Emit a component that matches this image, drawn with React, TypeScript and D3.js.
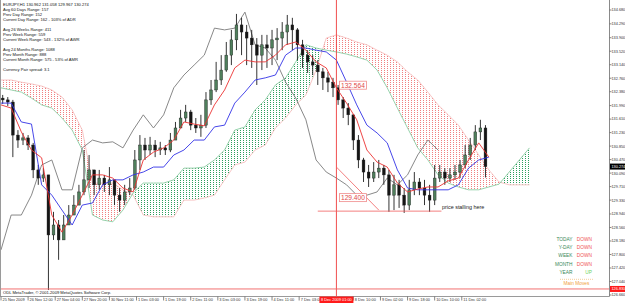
import React from "react";
import * as d3 from "d3";

const WIDTH = 625;
const HEIGHT = 303;

// ---- Candles (each candle groups 3 H1 bars) ----
const CANDLE_OPEN_FIRST = 132.2;
const candleClose = [
  132.15, 132.09, 131.16, 131.02, 131.08, 130.88, 130.18, 129.95, 130.04, 128.35,
  128.63, 128.21, 128.63, 128.91, 129.19, 129.56, 129.9, 130.18, 129.76, 129.95,
  129.76, 129.9, 129.47, 129.33, 129.56, 129.67, 130.46, 130.88, 130.74, 130.88,
  130.74, 130.8, 130.74, 131.02, 131.36, 131.64, 131.81, 131.44, 131.36, 131.44,
  132.15, 132.43, 132.71, 132.99, 133.41, 133.84, 134.26, 134.06, 133.89, 133.7,
  133.41, 133.7, 133.61, 133.84, 133.89, 134.06, 134.26, 134.12, 133.7, 133.41,
  133.22, 133.13, 132.94, 132.77, 132.65, 132.49, 132.15, 131.92, 131.73, 131.02,
  130.46, 130.12, 129.95, 130.12, 130.23, 130.04, 129.47, 129.76, 129.47, 129.19,
  129.62, 129.84, 129.67, 129.47, 129.33, 129.95, 130.12, 129.95, 130.04, 130.12,
  130.32, 130.6, 130.88, 131.25, 131.36, 130.274,
];
const candleHigh = [
  132.29, 132.23, 132.15, 131.3, 131.22, 131.16, 130.94, 130.32, 130.23, 130.04,
  129.0, 128.77, 128.91, 129.19, 129.47, 129.76, 130.74, 130.6, 130.18, 130.18,
  130.04, 130.26, 129.9, 129.67, 129.76, 129.95, 130.74, 131.16, 131.08, 131.11,
  131.02, 130.97, 130.88, 131.22, 131.53, 131.87, 132.01, 131.87, 131.64, 131.73,
  132.37, 132.71, 133.22, 133.41, 133.78, 134.12, 134.57, 134.46, 134.26, 134.12,
  133.89, 133.98, 133.98, 134.12, 134.17, 134.34, 134.54, 134.46, 134.17, 133.84,
  133.55, 133.41, 133.27, 133.05, 132.94, 132.77, 132.57, 132.23, 132.06, 131.73,
  131.16, 130.52, 130.32, 130.4, 130.46, 130.32, 130.18, 130.04, 129.9, 129.67,
  129.9, 130.12, 129.95, 129.9, 129.76, 130.32, 130.32, 130.23, 130.23, 130.32,
  130.46, 130.88, 131.08, 131.44, 131.59, 131.44,
];
const candleLow = [
  132.04, 131.98, 130.54, 130.8, 130.88, 130.74, 129.95, 129.76, 129.84, 126.8,
  128.21, 127.65, 128.21, 128.63, 128.91, 129.33, 129.47, 129.67, 129.47, 129.62,
  129.56, 129.47, 129.19, 129.0, 129.19, 129.47, 129.62, 130.18, 130.46, 130.6,
  130.54, 130.6, 130.6, 130.68, 131.02, 131.36, 131.53, 131.3, 131.22, 131.11,
  131.36, 132.01, 132.37, 132.57, 132.94, 133.13, 133.55, 133.41, 133.13, 133.05,
  132.57, 132.99, 133.05, 133.13, 133.27, 133.55, 133.7, 133.55, 133.27, 133.05,
  132.91, 132.85, 132.57, 132.43, 132.37, 132.23, 132.01, 131.64, 131.44, 130.74,
  130.23, 129.84, 129.7, 129.84, 129.95, 129.76, 129.0, 129.05, 129.11, 128.97,
  129.05, 129.47, 129.47, 129.19, 129.0, 129.19, 129.84, 129.76, 129.84, 129.9,
  129.95, 130.23, 130.46, 130.74, 131.02, 129.967,
];

// ---- Ichimoku lines, one value every 6 H1 bars ----
const tenkan = [
  132.01, 131.92, 131.25, 130.74, 130.52, 128.91, 128.43, 128.91, 129.47, 130.04,
  130.04, 129.95, 129.67, 129.56, 130.46, 130.68, 130.8, 131.02, 131.53, 131.47,
  131.42, 132.01, 132.43, 133.05, 133.27, 133.22, 133.22, 133.41, 133.7, 133.78,
  133.55, 133.22, 133.05, 132.49, 132.06, 131.59, 130.74, 130.4, 130.26, 129.81,
  129.56, 129.64, 129.7, 129.7, 129.87, 129.95, 130.46, 130.94, 130.54,
];
const kijun = [
  132.06, 132.06, 131.53, 131.47, 129.76, 129.47, 129.05, 128.63, 129.19, 129.25,
  129.76, 129.9, 129.9, 130.04, 130.12, 130.26, 130.26, 130.6, 130.74, 131.02,
  131.02, 131.39, 131.44, 132.06, 132.37, 132.71, 132.77, 132.85, 133.41, 133.61,
  133.61, 133.55, 133.5, 133.27, 132.65, 132.01, 131.44, 131.22, 130.94, 130.18,
  129.67, 129.62, 129.62, 129.62, 129.62, 129.76, 130.23, 130.46, 130.54,
];
const chikou = [
  127.93, 128.91, 128.91, 129.47, 130.32, 130.46, 129.62, 129.62, 130.8, 131.02,
  130.94, 130.97, 130.8, 131.3, 131.73, 131.36, 131.73, 132.49, 132.85, 133.13,
  133.41, 134.17, 134.12, 134.17, 134.62, 133.7, 133.61, 133.27, 132.65, 132.2,
  131.59, 130.46, 130.12, 129.95, 129.76, 129.47, 129.47, 129.56, 129.95, 129.76,
  130.04, 130.6, 131.02, 130.74,
];
const spanA = [
  132.49, 132.43, 132.37, 132.2, 132.01, 131.92, 131.64, 131.3, 130.74, 128.91,
  128.77, 128.72, 129.05, 129.53, 129.81, 129.81, 129.81, 129.9, 130.23, 130.23,
  130.26, 130.46, 130.74, 131.3, 131.39, 131.87, 132.15, 132.57, 132.77, 133.22,
  133.7, 133.61, 133.55, 133.5, 133.44, 133.36, 133.27, 132.99, 132.49, 131.92,
  131.36, 130.8, 130.46, 130.04, 129.81, 129.7, 129.62, 129.62, 129.7, 129.78,
  130.12, 130.46, 130.8,
];
const spanB = [
  132.71, 132.71, 132.65, 132.6, 132.54, 132.43, 132.23, 131.87, 131.3, 129.81,
  129.81, 129.81, 129.62, 129.47, 128.91, 128.86, 128.86, 128.86, 129.33, 129.33,
  129.39, 129.47, 129.9, 130.32, 130.4, 130.74, 130.88, 131.36, 131.64, 132.01,
  132.29, 132.99, 133.89, 133.98, 133.89, 133.78, 133.7, 133.55, 133.41, 133.22,
  132.94, 132.71, 132.37, 132.01, 131.73, 131.44, 131.02, 130.6, 130.18, 129.84,
  129.76, 129.76, 129.76,
];

// ---- Axis labels ----
const priceTicks = [
  134.68, 134.29, 133.9, 133.52, 133.14, 132.76, 132.38, 131.99, 131.61, 131.23,
  130.85, 130.47, 130.09, 129.71, 129.33, 128.94, 128.56, 128.18, 127.8, 127.42,
  127.04, 126.66,
];
// one label every 16 H1 bars; the 13th sits under the red cursor label
const timeLabels = [
  "25 Nov 2009", "26 Nov 12:00", "27 Nov 04:00", "27 Nov 20:00", "30 Nov 11:00",
  "1 Dec 03:00", "1 Dec 19:00", "2 Dec 11:00", "3 Dec 03:00", "3 Dec 19:00",
  "4 Dec 11:00", "7 Dec 03:00", "", "8 Dec 10:00", "9 Dec 02:00",
  "9 Dec 18:00", "10 Dec 10:00", "11 Dec 02:00",
];
const CURRENT_PRICE = 130.274;
const ALERT_PRICE = 126.83;
const VLINE_BAR = 198;
const VLINE_LABEL = "8 Dec 2009 01:00";
const FIB_HIGH = 132.564;
const FIB_LOW = 129.4;
const trendStart = { bar: 198, price: 130.26 };
const trendEnd = { bar: 223, price: 129.05 };
const stallLine = { from: 187, to: 260, price: 129.02 };

const headerLines = [
  "EURJPY,H1  130.962 131.058 129.967 130.274",
  "Avg 60 Days Range: 157",
  "Prev Day Range: 152",
  "Current Day Range: 162 - 103% of ADR",
  "",
  "Avg 26 Weeks Range: 411",
  "Prev Week Range: 559",
  "Current Week Range: 543 - 132% of AWR",
  "",
  "Avg 24 Months Range: 1088",
  "Prev Month Range: 888",
  "Current Month Range: 575 - 53% of AMR",
  "",
  "Currency Pair spread: 3.1",
];
const trendNames = ["TODAY", "Y-DAY", "WEEK", "MONTH", "YEAR"];
const trendValues = ["DOWN", "DOWN", "DOWN", "DOWN", "UP"];

const FONT = "'Liberation Sans', Arial, sans-serif";

export default function App() {
  const PLOT_R = 609.5;
  const PLOT_B = 296.5;
  const x = d3.scaleLinear().domain([0, 360]).range([1, 1 + 1.694 * 360]);
  const y = d3.scaleLinear().domain([126.66, 134.68]).range([295, 10]);

  const candles = candleClose.map((c, i) => {
    const o = i === 0 ? CANDLE_OPEN_FIRST : candleClose[i - 1];
    return {
      bar: i * 3 + 1,
      o,
      c,
      h: Math.max(candleHigh[i], o, c),
      l: Math.min(candleLow[i], o, c),
    };
  });

  const STEP = 6;
  const line = d3
    .line<number>()
    .x((_, k) => x(k * STEP))
    .y((v) => y(v));

  const idx = spanA.map((_, k) => k);
  const cloudArea = d3
    .area<number>()
    .x((k) => x(k * STEP))
    .y0((k) => y(spanA[k]))
    .y1((k) => y(spanB[k]))(idx) as string;
  const aboveB = d3
    .area<number>()
    .x((k) => x(k * STEP))
    .y0(0)
    .y1((k) => y(spanB[k]))(idx) as string;
  const aboveA = d3
    .area<number>()
    .x((k) => x(k * STEP))
    .y0(0)
    .y1((k) => y(spanA[k]))(idx) as string;

  const vx = x(VLINE_BAR);

  return (
    <svg
      width={WIDTH}
      height={HEIGHT}
      style={{ position: "absolute", left: 0, top: 0, background: "#fff" }}
      fontFamily={FONT}
    >
      <defs>
        <pattern id="gHatch" width="3" height="2" patternUnits="userSpaceOnUse">
          <rect x="0" y="0" width="1" height="1" fill="#2f9e5e" />
        </pattern>
        <pattern id="pHatch" width="3" height="2" patternUnits="userSpaceOnUse">
          <rect x="0" y="0" width="1" height="1" fill="#f08080" />
        </pattern>
        <clipPath id="clipAboveB">
          <path d={aboveB} />
        </clipPath>
        <clipPath id="clipAboveA">
          <path d={aboveA} />
        </clipPath>
        <clipPath id="plot">
          <rect x="0" y="0" width={PLOT_R} height={PLOT_B} />
        </clipPath>
      </defs>
      <rect x="0" y="0" width={WIDTH} height={HEIGHT} fill="#fff" />

      <g clipPath="url(#plot)">
        {/* cloud */}
        <path d={cloudArea} fill="url(#gHatch)" clipPath="url(#clipAboveB)" />
        <path d={cloudArea} fill="url(#pHatch)" clipPath="url(#clipAboveA)" />
        <path d={line(spanB) as string} fill="none" stroke="#f6b8b8" strokeWidth={0.8} />
        <path d={line(spanA) as string} fill="none" stroke="#7cc898" strokeWidth={0.8} />

        {/* chikou */}
        <path d={line(chikou) as string} fill="none" stroke="#7a7a7a" strokeWidth={0.9} />

        {/* candles */}
        {candles.map((d, i) => {
          const cx = x(d.bar);
          const up = d.c >= d.o;
          const top = y(Math.max(d.o, d.c));
          const bot = y(Math.min(d.o, d.c));
          return (
            <g key={i}>
              <line x1={cx} x2={cx} y1={y(d.h)} y2={y(d.l)} stroke="#1e1e1e" strokeWidth={0.9} />
              <rect
                x={cx - 1.4}
                y={top}
                width={2.8}
                height={Math.max(0.8, bot - top)}
                fill={up ? "#4f7f5c" : "#151515"}
                stroke="#1e1e1e"
                strokeWidth={0.4}
              />
            </g>
          );
        })}

        {/* tenkan / kijun */}
        <path d={line(kijun) as string} fill="none" stroke="#3232e6" strokeWidth={0.9} />
        <path d={line(tenkan) as string} fill="none" stroke="#ec3232" strokeWidth={0.9} />

        {/* objects */}
        <line x1={vx} x2={vx} y1={0} y2={PLOT_B} stroke="#ee3b3b" strokeWidth={0.9} />
        <line
          x1={x(trendStart.bar)}
          y1={y(trendStart.price)}
          x2={x(trendEnd.bar)}
          y2={y(trendEnd.price)}
          stroke="#f06060"
          strokeWidth={0.8}
        />
        <line
          x1={x(stallLine.from)}
          x2={x(stallLine.to)}
          y1={y(stallLine.price)}
          y2={y(stallLine.price)}
          stroke="#f06060"
          strokeWidth={0.8}
        />
        <line x1={0} x2={PLOT_R} y1={y(ALERT_PRICE)} y2={y(ALERT_PRICE)} stroke="#f06060" strokeWidth={0.9} />

        {[FIB_HIGH, FIB_LOW].map((p, i) => (
          <g key={i}>
            <rect x={vx + 3} y={y(p) - 4} width={27} height={8} fill="#fff" stroke="#f08a8a" strokeWidth={0.8} />
            <text x={vx + 16.5} y={y(p) + 2.4} fontSize={6.6} fill="#e04848" textAnchor="middle">
              {p.toFixed(3)}
            </text>
          </g>
        ))}
        <text x={442} y={208.5} fontSize={5.4} fill="#222">
          price stalling here
        </text>

        {/* header info */}
        {headerLines.map((t, n) => (
          <text key={n} x={3} y={5.6 + n * 5.03} fontSize={4.1} fill="#111">
            {t}
          </text>
        ))}

        {/* trend table */}
        {trendNames.map((t, n) => (
          <g key={t}>
            <text x={572.5} y={240.8 + n * 8.3} fontSize={4.8} fill="#3a8a5a" textAnchor="end">
              {t}
            </text>
            <text
              x={592}
              y={240.8 + n * 8.3}
              fontSize={4.8}
              fill={trendValues[n] === "UP" ? "#6ad35a" : "#ef5555"}
              textAnchor="end"
            >
              {trendValues[n]}
            </text>
          </g>
        ))}
        <line x1={560} x2={593} y1={279.3} y2={279.3} stroke="#f2c080" strokeWidth={0.8} strokeDasharray="1,1" />
        <text x={576.5} y={285} fontSize={4.8} fill="#f0a040" textAnchor="middle">
          Main Moves
        </text>

        <text x={3} y={293.6} fontSize={4.1} fill="#111">
          ODL MetaTrader, © 2001-2009 MetaQuotes Software Corp.
        </text>
      </g>

      {/* frame */}
      <line x1={0.5} x2={0.5} y1={0} y2={PLOT_B} stroke="#9a9a9a" strokeWidth={1} />
      <line x1={0} x2={PLOT_R} y1={PLOT_B} y2={PLOT_B} stroke="#9a9a9a" strokeWidth={1} />
      <line x1={PLOT_R} x2={PLOT_R} y1={0} y2={PLOT_B} stroke="#8a8a8a" strokeWidth={1} />

      {/* price axis */}
      {priceTicks.map((p) => (
        <g key={p}>
          <line x1={PLOT_R} x2={PLOT_R + 2} y1={y(p)} y2={y(p)} stroke="#666" strokeWidth={0.8} />
          <text x={611.5} y={y(p) + 1.4} fontSize={3.8} fill="#333">
            {p.toFixed(3)}
          </text>
        </g>
      ))}
      <rect x={PLOT_R + 0.5} y={y(CURRENT_PRICE) - 3} width={15} height={6} fill="#000" />
      <text x={611.5} y={y(CURRENT_PRICE) + 1.4} fontSize={3.8} fill="#fff">
        {CURRENT_PRICE.toFixed(3)}
      </text>
      <rect x={PLOT_R + 0.5} y={y(ALERT_PRICE) - 3} width={15} height={6} fill="#ff1a1a" />
      <text x={611.5} y={y(ALERT_PRICE) + 1.4} fontSize={3.8} fill="#fff">
        {ALERT_PRICE.toFixed(3)}
      </text>

      {/* time axis */}
      {timeLabels.map((t, n) =>
        t ? (
          <g key={n}>
            <line x1={x(n * 16)} x2={x(n * 16)} y1={PLOT_B} y2={PLOT_B + 4} stroke="#666" strokeWidth={0.8} />
            <text x={x(n * 16) + 1.5} y={300.8} fontSize={3.9} fill="#333">
              {t}
            </text>
          </g>
        ) : null
      )}
      <rect x={vx - 17} y={PLOT_B} width={34} height={6.5} fill="#ff1a1a" />
      <text x={vx} y={300.9} fontSize={3.9} fill="#fff" textAnchor="middle">
        {VLINE_LABEL}
      </text>
    </svg>
  );
}
